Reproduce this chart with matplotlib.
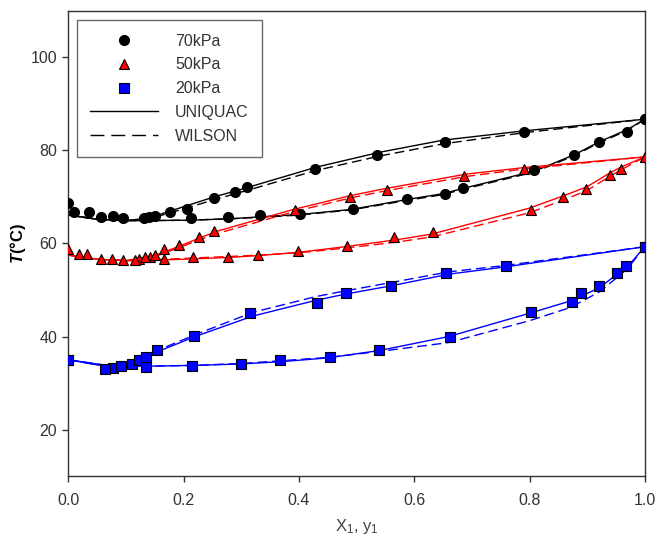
import numpy as np
import matplotlib
matplotlib.use('Agg')
import matplotlib.pyplot as plt
from matplotlib.lines import Line2D

plt.rcParams['font.family'] = ['Liberation Sans', 'DejaVu Sans']
plt.rcParams['mathtext.fontset'] = 'custom'
plt.rcParams['mathtext.rm'] = 'Liberation Sans'
plt.rcParams['mathtext.it'] = 'Liberation Sans:italic:bold'

# experimental points, two branches per pressure
x70_a = [0.0, 0.010, 0.056, 0.094, 0.140, 0.150, 0.176, 0.206, 0.253, 0.289, 0.309, 0.428, 0.535, 0.654, 0.791, 1.0]
t70_a = [68.6, 66.8, 65.7, 65.4, 65.6, 65.9, 66.8, 67.5, 69.7, 71.1, 72.2, 75.9, 79.0, 81.7, 83.85, 86.7]
x70_b = [0.036, 0.078, 0.131, 0.212, 0.277, 0.332, 0.402, 0.493, 0.587, 0.654, 0.684, 0.808, 0.877, 0.921, 0.969, 1.0]
t70_b = [66.8, 65.85, 65.4, 65.4, 65.6, 66.1, 66.4, 67.35, 69.65, 70.7, 72.0, 75.7, 79.1, 81.7, 83.85, 86.7]

x50_a = [0.0, 0.032, 0.075, 0.123, 0.142, 0.150, 0.166, 0.192, 0.227, 0.253, 0.393, 0.488, 0.552, 0.687, 0.791, 1.0]
t50_a = [58.9, 57.7, 56.75, 56.75, 57.1, 57.5, 58.7, 59.6, 61.3, 62.6, 67.1, 69.9, 71.4, 74.5, 76.0, 78.6]
x50_b = [0.019, 0.056, 0.095, 0.116, 0.133, 0.165, 0.216, 0.276, 0.329, 0.399, 0.483, 0.565, 0.632, 0.802, 0.858, 0.898, 0.939, 0.958, 1.0]
t50_b = [57.8, 56.75, 56.4, 56.5, 57.0, 56.75, 57.1, 57.1, 57.5, 58.4, 59.4, 61.3, 62.5, 67.1, 69.9, 71.6, 74.7, 76.0, 78.6]

x20_a = [0.0, 0.078, 0.110, 0.123, 0.135, 0.153, 0.218, 0.315, 0.432, 0.482, 0.560, 0.655, 0.759, 1.0]
t20_a = [34.9, 33.2, 34.0, 34.9, 35.6, 37.2, 40.1, 45.1, 47.3, 49.4, 50.9, 53.7, 55.2, 59.3]
x20_b = [0.0, 0.064, 0.091, 0.135, 0.215, 0.299, 0.367, 0.454, 0.539, 0.662, 0.802, 0.874, 0.890, 0.921, 0.952, 0.967, 1.0]
t20_b = [34.9, 33.1, 33.65, 33.4, 33.6, 34.0, 34.9, 35.6, 37.2, 40.0, 45.2, 47.4, 49.4, 50.9, 53.7, 55.2, 59.3]

# model curves (UNIQUAC / WILSON)
c70_a_x = [0, 0.05, 0.10, 0.14, 0.18, 0.21, 0.25, 0.29, 0.31, 0.43, 0.54, 0.65, 0.79, 1.0]
c70_a_uni = [66.1, 65.2, 64.9, 65.5, 67.1, 68.3, 69.9, 71.3, 72.0, 76.4, 79.6, 82.2, 84.2, 86.7]
c70_a_wil = [66.1, 65.2, 64.9, 65.3, 66.7, 67.8, 69.3, 70.7, 71.4, 75.7, 78.8, 81.4, 83.8, 86.7]
c70_b_x = [0, 0.05, 0.10, 0.13, 0.21, 0.28, 0.33, 0.40, 0.49, 0.59, 0.65, 0.68, 0.81, 0.88, 0.92, 0.97, 1.0]
c70_b_uni = [66.1, 65.2, 64.9, 64.9, 65.0, 65.3, 65.7, 66.2, 67.3, 69.5, 70.7, 71.7, 75.6, 79.2, 81.8, 84.5, 86.7]
c70_b_wil = [66.1, 65.2, 64.9, 64.9, 65.0, 65.3, 65.6, 66.1, 67.2, 69.3, 70.5, 71.5, 75.4, 79.0, 81.6, 84.3, 86.7]

c50_a_x = [0, 0.05, 0.10, 0.15, 0.19, 0.23, 0.26, 0.39, 0.49, 0.55, 0.69, 0.79, 1.0]
c50_a_uni = [57.5, 56.6, 56.3, 57.4, 59.3, 61.3, 62.7, 67.3, 70.3, 71.8, 74.9, 76.3, 78.6]
c50_a_wil = [57.5, 56.6, 56.3, 57.2, 59.0, 60.9, 62.2, 66.8, 69.8, 71.3, 74.4, 76.0, 78.6]
c50_b_x = [0, 0.05, 0.10, 0.15, 0.22, 0.28, 0.33, 0.40, 0.48, 0.57, 0.63, 0.80, 0.86, 0.90, 0.94, 0.96, 1.0]
c50_b_uni = [57.5, 56.6, 56.3, 56.4, 56.7, 57.0, 57.4, 58.1, 59.3, 60.8, 62.0, 67.6, 70.3, 72.2, 75.2, 76.5, 78.6]
c50_b_wil = [57.5, 56.6, 56.3, 56.5, 56.9, 57.2, 57.5, 58.0, 59.0, 60.3, 61.4, 66.6, 69.4, 71.4, 74.5, 75.9, 78.6]

c20_a_x = [0, 0.05, 0.08, 0.12, 0.16, 0.22, 0.32, 0.43, 0.48, 0.56, 0.66, 0.76, 1.0]
c20_a_uni = [35.0, 33.9, 33.7, 34.6, 37.0, 40.0, 44.4, 47.8, 49.1, 50.9, 53.4, 55.0, 59.3]
c20_a_wil = [35.0, 33.9, 33.7, 34.7, 37.3, 40.4, 45.2, 48.6, 49.8, 51.6, 53.9, 55.3, 59.3]
c20_b_x = [0, 0.06, 0.13, 0.22, 0.30, 0.37, 0.45, 0.54, 0.66, 0.80, 0.87, 0.92, 0.95, 0.97, 1.0]
c20_b_uni = [35.0, 33.9, 33.6, 33.8, 34.1, 34.6, 35.4, 37.0, 40.0, 45.0, 47.6, 50.4, 53.2, 55.0, 59.3]
c20_b_wil = [35.0, 33.9, 33.6, 33.8, 34.2, 34.8, 35.5, 36.8, 38.7, 43.4, 46.2, 49.5, 52.5, 54.6, 59.3]

fig = plt.figure(figsize=(6.71, 5.41), dpi=100)
ax = fig.add_axes([0.102, 0.120, 0.859, 0.860])

dash = (0, (7, 3.5))
curves = [
    ('black', c70_a_x, c70_a_uni, c70_a_wil), ('black', c70_b_x, c70_b_uni, c70_b_wil),
    ('red', c50_a_x, c50_a_uni, c50_a_wil), ('red', c50_b_x, c50_b_uni, c50_b_wil),
    ('#0000ff', c20_a_x, c20_a_uni, c20_a_wil), ('#0000ff', c20_b_x, c20_b_uni, c20_b_wil),
]
for col, cx, cu, cw in curves:
    ax.plot(cx, cu, color=col, lw=1.0, zorder=2)
    ax.plot(cx, cw, color=col, lw=1.0, ls=dash, zorder=2)

ax.plot(x70_a + x70_b, t70_a + t70_b, 'o', color='black', mec='black', ms=7, zorder=3)
ax.plot(x50_a + x50_b, t50_a + t50_b, '^', color='red', mec='black', mew=0.8, ms=7.5, zorder=3)
ax.plot(x20_a + x20_b, t20_a + t20_b, 's', color='#0000ff', mec='black', mew=0.8, ms=6.5, zorder=3)

handles = [
    Line2D([], [], ls='none', marker='o', color='black', ms=7),
    Line2D([], [], ls='none', marker='^', color='red', mec='black', mew=0.8, ms=7.5),
    Line2D([], [], ls='none', marker='s', color='#0000ff', mec='black', mew=0.8, ms=6.5),
    Line2D([], [], color='black', lw=1.0),
    Line2D([], [], color='black', lw=1.0, ls=(0, (10, 5))),
]
labels = ['70kPa', '50kPa', '20kPa', 'UNIQUAC', 'WILSON']
leg = ax.legend(handles, labels, loc='upper left', bbox_to_anchor=(0.0146, 0.98),
                fontsize=11.5, frameon=True, fancybox=False, edgecolor='#444444',
                handlelength=4.2, handletextpad=1.1, labelspacing=0.55,
                borderpad=0.85, borderaxespad=0.0)
leg.get_frame().set_linewidth(1.0)
for t in leg.get_texts():
    t.set_color('#333333')

ax.set_xlim(0, 1)
ax.set_ylim(10, 110)
ax.set_xticks(np.arange(0, 1.01, 0.2))
ax.set_xticklabels(['%.1f' % v for v in np.arange(0, 1.01, 0.2)])
ax.set_yticks([20, 40, 60, 80, 100])
ax.tick_params(direction='out', length=4.5, width=1.0, labelsize=11.5, colors='#333333')
ax.tick_params(axis='x', pad=8)
for s in ax.spines.values():
    s.set_linewidth(1.0)
    s.set_color('#333333')

ax.set_xlabel(r'X$_{\mathregular{1}}$, y$_{\mathregular{1}}$', fontsize=12, color='#444444', labelpad=6)
ax.set_ylabel(r'$\mathit{T}$(°C)', fontsize=12, fontweight='bold', labelpad=2)

fig.savefig('out.png', dpi=100)
